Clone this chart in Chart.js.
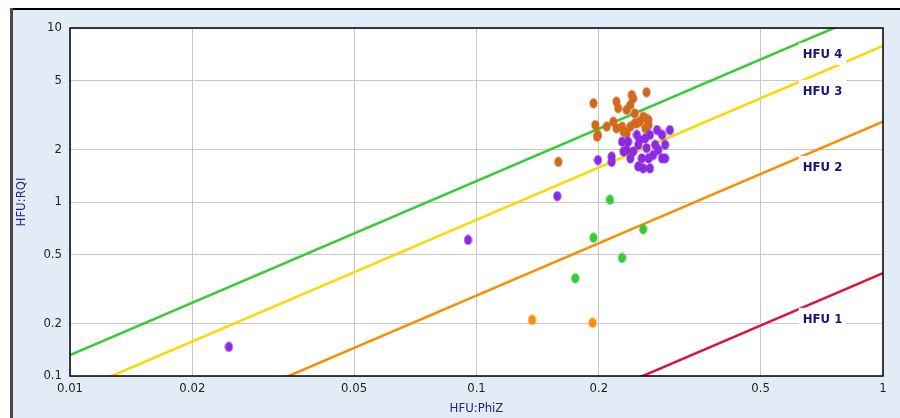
<!DOCTYPE html>
<html>
<head>
<meta charset="utf-8">
<script src="https://cdn.jsdelivr.net/npm/chart.js@4.4.0/dist/chart.umd.min.js"></script>
<style>
  html, body { margin: 0; padding: 0; background: #fff; }
  #wrap { width: 900px; height: 418px; }
</style>
</head>
<body>
<div id="wrap"><canvas id="myChart" width="900" height="418"></canvas></div>
<script>
// axis ticks
var xTicks = [0.01, 0.02, 0.05, 0.1, 0.2, 0.5, 1];
var yTicks = [0.1, 0.2, 0.5, 1, 2, 5, 10];

// HFU boundary lines (end points, PhiZ -> RQI)
var lineX = [0.01, 1];
var hfu4Y = [0.132, 13.2];
var hfu3Y = [0.079, 7.9];
var hfu2Y = [0.029, 2.9];
var hfu1Y = [0.0039, 0.39];

// HFU labels
var hfuNames = ['HFU 4', 'HFU 3', 'HFU 2', 'HFU 1'];
var hfuLabelX = [0.71, 0.71, 0.71, 0.71];
var hfuLabelY = [7.1, 4.35, 1.59, 0.213];

// samples
var purplePhiZ = [0.0246, 0.0953, 0.158, 0.199, 0.215, 0.215, 0.228, 0.230, 0.236, 0.248, 0.250, 0.260, 0.262, 0.278, 0.286, 0.299,
                  0.275, 0.280, 0.272, 0.286, 0.291, 0.250, 0.257, 0.267, 0.255, 0.265, 0.239, 0.234, 0.243, 0.291, 0.252, 0.267];
var purpleRQI  = [0.147, 0.605, 1.08, 1.74, 1.82, 1.70, 2.22, 1.95, 2.22, 2.43, 2.13, 2.32, 2.04, 2.59, 2.43, 2.59,
                  2.13, 1.99, 1.86, 1.78, 1.78, 1.60, 1.56, 1.56, 1.78, 1.78, 1.78, 1.99, 1.95, 2.13, 2.27, 2.43];

var brownPhiZ = [0.159, 0.194, 0.221, 0.223, 0.241, 0.243, 0.262, 0.234, 0.239, 0.245, 0.257, 0.265, 0.252, 0.196,
                 0.209, 0.217, 0.221, 0.228, 0.230, 0.239, 0.245, 0.260, 0.265, 0.199, 0.234, 0.198, 0.260, 0.248];
var brownRQI  = [1.70, 3.69, 3.77, 3.46, 4.12, 3.94, 4.27, 3.38, 3.61, 3.23, 3.09, 2.96, 2.89, 2.77,
                 2.71, 2.89, 2.65, 2.71, 2.54, 2.71, 2.83, 2.65, 2.77, 2.43, 2.48, 2.37, 3.03, 2.83];

var greenPhiZ = [0.213, 0.194, 0.257, 0.228, 0.175];
var greenRQI  = [1.03, 0.623, 0.697, 0.477, 0.364];

var orangePhiZ = [0.137, 0.193];
var orangeRQI  = [0.210, 0.202];

var fontFam = "'Liberation Sans Narrow', 'DejaVu Sans Condensed', sans-serif";
Chart.defaults.font.family = fontFam;

function toPoints(xs, ys) {
    return xs.map(function (v, i) { return { x: v, y: ys[i] }; });
}

// is this one of the labelled ticks?
function onList(list, v) {
    return list.some(function (t) { return Math.abs(t - v) < t * 1e-6; });
}

// slightly tall ellipse marker
function makeDot(color) {
    var c = document.createElement('canvas');
    c.width = 9; c.height = 11;
    var g = c.getContext('2d');
    g.fillStyle = color;
    g.beginPath();
    g.ellipse(4.5, 5.5, 4, 5, 0, 0, Math.PI * 2);
    g.fill();
    return c;
}

function dots(label, xs, ys, color) {
    return { label: label, data: toPoints(xs, ys), pointStyle: makeDot(color),
             backgroundColor: color, borderColor: color, showLine: false };
}

function hfuLine(label, ys, color) {
    return { label: label, data: toPoints(lineX, ys), showLine: true, borderColor: color,
             borderWidth: 2.5, pointRadius: 0, fill: false };
}

var framePlugin = {
    id: 'frame',
    beforeDraw: function (chart) {
        var ctx = chart.ctx, a = chart.chartArea;
        ctx.save();
        ctx.fillStyle = '#fff';
        ctx.fillRect(0, 0, chart.width, chart.height);
        ctx.fillStyle = '#e2ecf6';
        ctx.fillRect(12, 10, chart.width - 12, chart.height - 10);
        ctx.fillStyle = '#000';
        ctx.fillRect(10, 8, chart.width - 10, 2);
        ctx.fillStyle = '#4a4a4a';
        ctx.fillRect(10, 8, 3, chart.height - 8);
        ctx.fillStyle = '#fff';
        ctx.fillRect(a.left, a.top, a.right - a.left, a.bottom - a.top);
        ctx.restore();
    },
    afterDatasetsDraw: function (chart) {
        var ctx = chart.ctx, xs = chart.scales.x, ys = chart.scales.y;
        ctx.save();
        ctx.font = 'bold 13px ' + fontFam;
        ctx.textAlign = 'center';
        ctx.textBaseline = 'middle';
        hfuNames.forEach(function (name, i) {
            var px = xs.getPixelForValue(hfuLabelX[i]);
            var py = ys.getPixelForValue(hfuLabelY[i]);
            var w = ctx.measureText(name).width + 8;
            ctx.fillStyle = '#fff';
            ctx.fillRect(px - w / 2, py - 11, w, 22);
            ctx.fillStyle = '#14147a';
            ctx.fillText(name, px, py + 1);
        });
        ctx.restore();
    },
    afterDraw: function (chart) {
        var ctx = chart.ctx, a = chart.chartArea;
        ctx.save();
        ctx.strokeStyle = '#000';
        ctx.lineWidth = 1.5;
        ctx.strokeRect(a.left, a.top, a.right - a.left, a.bottom - a.top);
        ctx.restore();
    }
};

var ctx = document.getElementById('myChart').getContext('2d');
var myChart = new Chart(ctx, {
    type: 'scatter',
    data: {
        datasets: [
            dots('Purple', purplePhiZ, purpleRQI, '#8a2be2'),
            dots('Brown', brownPhiZ, brownRQI, '#d2691e'),
            dots('Green', greenPhiZ, greenRQI, '#33cc33'),
            dots('Orange', orangePhiZ, orangeRQI, '#ff8c00'),
            hfuLine('HFU 4', hfu4Y, '#33cc33'),
            hfuLine('HFU 3', hfu3Y, '#ffd700'),
            hfuLine('HFU 2', hfu2Y, '#ff8c00'),
            hfuLine('HFU 1', hfu1Y, '#dc143c')
        ]
    },
    options: {
        responsive: false,
        animation: false,
        devicePixelRatio: 1,
        layout: { padding: { top: 28, right: 17, left: 0, bottom: 0 } },
        plugins: {
            legend: { display: false },
            tooltip: { enabled: false }
        },
        scales: {
            x: {
                type: 'logarithmic',
                min: 0.01,
                max: 1,
                afterBuildTicks: function (s) { s.ticks = xTicks.map(function (v) { return { value: v }; }); },
                afterFit: function (s) { s.height = 42; },
                grid: {
                    drawTicks: false,
                    color: function (c) { return c.tick && onList(xTicks, c.tick.value) ? '#c8c8c8' : 'rgba(0,0,0,0)'; }
                },
                border: { display: false },
                ticks: {
                    padding: 5, color: '#222', font: { size: 13 }, maxRotation: 0, autoSkip: false,
                    callback: function (v) { return onList(xTicks, v) ? String(v) : ''; }
                },
                title: { display: true, text: 'HFU:PhiZ', color: '#22228f', font: { size: 13 }, padding: { top: 0, bottom: 2 } }
            },
            y: {
                type: 'logarithmic',
                min: 0.1,
                max: 10,
                afterBuildTicks: function (s) { s.ticks = yTicks.map(function (v) { return { value: v }; }); },
                afterFit: function (s) { s.width = 70; },
                grid: {
                    drawTicks: false,
                    color: function (c) { return c.tick && onList(yTicks, c.tick.value) ? '#c8c8c8' : 'rgba(0,0,0,0)'; }
                },
                border: { display: false },
                ticks: {
                    padding: 8, color: '#222', font: { size: 13 }, autoSkip: false,
                    callback: function (v) { return onList(yTicks, v) ? String(v) : ''; }
                },
                title: { display: true, text: 'HFU:RQI', color: '#22228f', font: { size: 13 }, padding: { top: 14, bottom: 0 } }
            }
        }
    },
    plugins: [framePlugin]
});
</script>
</body>
</html>
